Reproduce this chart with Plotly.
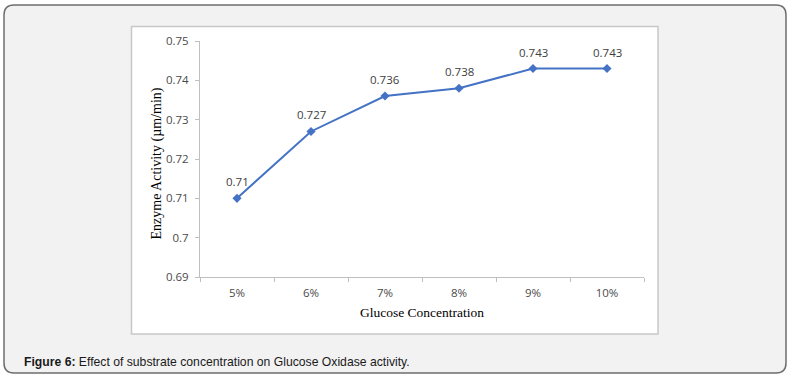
import plotly.graph_objects as go

categories = ["5%", "6%", "7%", "8%", "9%", "10%"]
activity = [0.71, 0.727, 0.736, 0.738, 0.743, 0.743]
ytick_vals = [0.69, 0.70, 0.71, 0.72, 0.73, 0.74, 0.75]
ytick_text = ["0.69", "0.7", "0.71", "0.72", "0.73", "0.74", "0.75"]

W, H = 795, 382
PL, PR, PT, PB = 200, 644, 41, 277  # plot area pixels


def px(x):
    return (x - PL) / (PR - PL)


def py(y):
    return (PB - y) / (PB - PT)


def rounded(x0, y0, x1, y1, r):
    pts = [
        f"M {px(x0 + r)} {py(y0)}",
        f"L {px(x1 - r)} {py(y0)}",
        f"Q {px(x1)} {py(y0)} {px(x1)} {py(y0 + r)}",
        f"L {px(x1)} {py(y1 - r)}",
        f"Q {px(x1)} {py(y1)} {px(x1 - r)} {py(y1)}",
        f"L {px(x0 + r)} {py(y1)}",
        f"Q {px(x0)} {py(y1)} {px(x0)} {py(y1 - r)}",
        f"L {px(x0)} {py(y0 + r)}",
        f"Q {px(x0)} {py(y0)} {px(x0 + r)} {py(y0)}",
        "Z",
    ]
    return " ".join(pts)


TICKFONT = dict(family="Open Sans, Liberation Sans, sans-serif", size=11.5, color="#4a4a4a")

fig = go.Figure()
fig.add_trace(go.Scatter(
    x=categories, y=activity,
    mode="lines+markers",
    line=dict(color="#4472C4", width=2),
    marker=dict(symbol="diamond", size=7, color="#4472C4"),
    cliponaxis=False,
    showlegend=False,
))

annotations = [
    dict(x=c, y=v, xref="x", yref="y", text=f"{v:g}", showarrow=False,
         yanchor="bottom", yshift=7,
         font=dict(family="Open Sans, Liberation Sans, sans-serif", size=11.5, color="#404040"))
    for c, v in zip(categories, activity)
]
annotations += [
    dict(xref="paper", yref="paper", x=px(22), y=py(362), xanchor="left", yanchor="middle",
         showarrow=False,
         text="<b>Figure 6:</b> Effect of substrate concentration on Glucose Oxidase activity.",
         font=dict(family="Liberation Sans, Arial, sans-serif", size=12.2, color="#1a1a1a")),
    dict(xref="paper", yref="paper", x=px(156.5), y=py(164), xanchor="center", yanchor="middle",
         showarrow=False, textangle=-90, text="Enzyme Activity (µm/min)",
         font=dict(family="Liberation Serif, serif", size=14, color="#000000")),
    dict(xref="paper", yref="paper", x=px(422), y=py(312), xanchor="center", yanchor="middle",
         showarrow=False, text="Glucose Concentration",
         font=dict(family="Liberation Serif, serif", size=13.5, color="#000000")),
]

shapes = [
    dict(type="path", xref="paper", yref="paper", path=rounded(4, 5, 786, 373, 10),
         fillcolor="#f2f2f2", line=dict(color="#6e6e6e", width=1.5), layer="below"),
    dict(type="rect", xref="paper", yref="paper", x0=px(131.5), x1=px(658), y0=py(26.5), y1=py(334),
         fillcolor="#ffffff", line=dict(color="#c8c8c8", width=1.5), layer="below"),
]

fig.update_layout(
    width=W, height=H,
    margin=dict(l=PL, r=W - PR, t=PT, b=H - PB),
    paper_bgcolor="#ffffff",
    plot_bgcolor="rgba(0,0,0,0)",
    shapes=shapes,
    annotations=annotations,
    xaxis=dict(
        range=[-0.5, 5.5], tickson="boundaries", ticks="outside", ticklen=4,
        tickcolor="#bfbfbf", showline=True, linecolor="#bfbfbf", linewidth=1,
        showgrid=False, zeroline=False, tickfont=TICKFONT, ticklabelstandoff=5,
    ),
    yaxis=dict(
        range=[0.69, 0.75], tickvals=ytick_vals, ticktext=ytick_text,
        ticks="outside", ticklen=4, tickcolor="#bfbfbf",
        showline=True, linecolor="#bfbfbf", linewidth=1,
        showgrid=False, zeroline=False, tickfont=TICKFONT, ticklabelstandoff=4,
    ),
)

fig.write_html("out.html", config={"displayModeBar": False},
               post_script="document.body.style.margin='0';document.body.style.overflow='hidden';")
